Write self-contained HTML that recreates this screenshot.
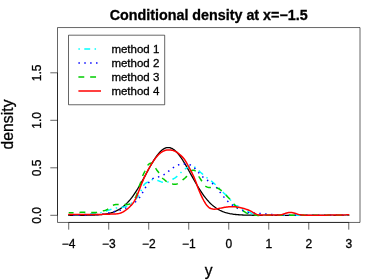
<!DOCTYPE html>
<html><head><meta charset="utf-8"><title>Conditional density</title>
<style>
html,body{margin:0;padding:0;background:#fff;}
svg{display:block;font-family:"Liberation Sans",sans-serif;will-change:transform;}
text{fill:#000;stroke:#000;stroke-width:0.3px;}
</style></head><body>
<svg width="374" height="280" viewBox="0 0 374 280">
<rect x="0" y="0" width="374" height="280" fill="#fff"/>
<g fill="none" stroke-linecap="butt" stroke-linejoin="round">
<path d="M68.71 215.30 L69.71 215.30 L70.71 215.30 L71.71 215.29 L72.71 215.29 L73.71 215.29 L74.71 215.29 L75.71 215.29 L76.71 215.29 L77.71 215.28 L78.71 215.28 L79.71 215.28 L80.71 215.27 L81.71 215.27 L82.71 215.26 L83.71 215.25 L84.71 215.24 L85.71 215.23 L86.71 215.22 L87.71 215.20 L88.72 215.19 L89.72 215.17 L90.72 215.14 L91.72 215.12 L92.72 215.09 L93.72 215.05 L94.72 215.01 L95.72 214.97 L96.72 214.92 L97.72 214.86 L98.72 214.79 L99.72 214.71 L100.72 214.63 L101.72 214.53 L102.72 214.42 L103.72 214.29 L104.72 214.15 L105.72 214.00 L106.72 213.82 L107.72 213.63 L108.72 213.41 L109.72 213.17 L110.72 212.91 L111.72 212.61 L112.72 212.29 L113.72 211.94 L114.72 211.55 L115.72 211.12 L116.72 210.66 L117.72 210.15 L118.72 209.60 L119.72 209.01 L120.72 208.37 L121.72 207.67 L122.72 206.93 L123.72 206.13 L124.72 205.28 L125.72 204.37 L126.72 203.40 L127.72 202.37 L128.72 201.28 L129.73 200.12 L130.73 198.91 L131.73 197.64 L132.73 196.30 L133.73 194.91 L134.73 193.46 L135.73 191.95 L136.73 190.39 L137.73 188.77 L138.73 187.12 L139.73 185.41 L140.73 183.67 L141.73 181.90 L142.73 180.10 L143.73 178.27 L144.73 176.43 L145.73 174.58 L146.73 172.73 L147.73 170.89 L148.73 169.06 L149.73 167.25 L150.73 165.47 L151.73 163.74 L152.73 162.05 L153.73 160.41 L154.73 158.84 L155.73 157.34 L156.73 155.93 L157.73 154.60 L158.73 153.37 L159.73 152.24 L160.73 151.22 L161.73 150.32 L162.73 149.53 L163.73 148.88 L164.73 148.35 L165.73 147.95 L166.73 147.69 L167.73 147.57 L168.74 147.58 L169.74 147.73 L170.74 148.00 L171.74 148.41 L172.74 148.94 L173.74 149.59 L174.74 150.37 L175.74 151.26 L176.74 152.26 L177.74 153.36 L178.74 154.57 L179.74 155.86 L180.74 157.25 L181.74 158.71 L182.74 160.24 L183.74 161.83 L184.74 163.48 L185.74 165.17 L186.74 166.90 L187.74 168.67 L188.74 170.46 L189.74 172.26 L190.74 174.07 L191.74 175.88 L192.74 177.68 L193.74 179.47 L194.74 181.25 L195.74 182.99 L196.74 184.71 L197.74 186.39 L198.74 188.04 L199.74 189.64 L200.74 191.19 L201.74 192.69 L202.74 194.14 L203.74 195.54 L204.74 196.88 L205.74 198.16 L206.74 199.38 L207.74 200.55 L208.74 201.65 L209.75 202.70 L210.75 203.69 L211.75 204.63 L212.75 205.50 L213.75 206.32 L214.75 207.09 L215.75 207.81 L216.75 208.48 L217.75 209.10 L218.75 209.68 L219.75 210.21 L220.75 210.70 L221.75 211.15 L222.75 211.56 L223.75 211.94 L224.75 212.29 L225.75 212.61 L226.75 212.89 L227.75 213.16 L228.75 213.39 L229.75 213.61 L230.75 213.80 L231.75 213.97 L232.75 214.13 L233.75 214.27 L234.75 214.39 L235.75 214.50 L236.75 214.60 L237.75 214.69 L238.75 214.77 L239.75 214.84 L240.75 214.90 L241.75 214.95 L242.75 215.00 L243.75 215.04 L244.75 215.07 L245.75 215.11 L246.75 215.13 L247.75 215.16 L248.75 215.18 L249.76 215.20 L250.76 215.21 L251.76 215.22 L252.76 215.24 L253.76 215.25 L254.76 215.25 L255.76 215.26 L256.76 215.27 L257.76 215.27 L258.76 215.28 L259.76 215.28 L260.76 215.28 L261.76 215.29 L262.76 215.29 L263.76 215.29 L264.76 215.29 L265.76 215.29 L266.76 215.29 L267.76 215.30 L268.76 215.30 L269.76 215.30 L270.76 215.30 L271.76 215.30 L272.76 215.30 L273.76 215.30 L274.76 215.30 L275.76 215.30 L276.76 215.30 L277.76 215.30 L278.76 215.30 L279.76 215.30 L280.76 215.30 L281.76 215.30 L282.76 215.30 L283.76 215.30 L284.76 215.30 L285.76 215.30 L286.76 215.30 L287.76 215.30 L288.76 215.30 L289.77 215.30 L290.77 215.30 L291.77 215.30 L292.77 215.30 L293.77 215.30 L294.77 215.30 L295.77 215.30 L296.77 215.30 L297.77 215.30 L298.77 215.30 L299.77 215.30 L300.77 215.30 L301.77 215.30 L302.77 215.30 L303.77 215.30 L304.77 215.30 L305.77 215.30 L306.77 215.30 L307.77 215.30 L308.77 215.30 L309.77 215.30 L310.77 215.30 L311.77 215.30 L312.77 215.30 L313.77 215.30 L314.77 215.30 L315.77 215.30 L316.77 215.30 L317.77 215.30 L318.77 215.30 L319.77 215.30 L320.77 215.30 L321.77 215.30 L322.77 215.30 L323.77 215.30 L324.77 215.30 L325.77 215.30 L326.77 215.30 L327.77 215.30 L328.77 215.30 L329.78 215.30 L330.78 215.30 L331.78 215.30 L332.78 215.30 L333.78 215.30 L334.78 215.30 L335.78 215.30 L336.78 215.30 L337.78 215.30 L338.78 215.30 L339.78 215.30 L340.78 215.30 L341.78 215.30 L342.78 215.30 L343.78 215.30 L344.78 215.30 L345.78 215.30 L346.78 215.30 L347.78 215.30 L348.78 215.30" stroke="#000" stroke-width="1.3" stroke-linecap="round"/>
<path d="M68.71 214.80 L69.71 214.79 L70.71 214.78 L71.71 214.78 L72.71 214.76 L73.71 214.75 L74.71 214.74 L75.71 214.72 L76.71 214.70 L77.71 214.67 L78.71 214.64 L79.71 214.61 L80.71 214.57 L81.71 214.53 L82.71 214.48 L83.71 214.42 L84.71 214.37 L85.71 214.30 L86.71 214.24 L87.71 214.17 L88.72 214.10 L89.72 214.02 L90.72 213.95 L91.72 213.87 L92.72 213.78 L93.72 213.68 L94.72 213.58 L95.72 213.46 L96.72 213.33 L97.72 213.18 L98.72 213.02 L99.72 212.83 L100.72 212.62 L101.72 212.38 L102.72 212.12 L103.72 211.84 L104.72 211.55 L105.72 211.23 L106.72 210.91 L107.72 210.57 L108.72 210.23 L109.72 209.89 L110.72 209.54 L111.72 209.20 L112.72 208.88 L113.72 208.58 L114.72 208.31 L115.72 208.08 L116.72 207.90 L117.72 207.75 L118.72 207.64 L119.72 207.54 L120.72 207.44 L121.72 207.33 L122.72 207.20 L123.72 207.03 L124.72 206.81 L125.72 206.53 L126.72 206.17 L127.72 205.73 L128.72 205.20 L129.73 204.55 L130.73 203.81 L131.73 202.99 L132.73 202.10 L133.73 201.17 L134.73 200.21 L135.73 199.21 L136.73 198.10 L137.73 196.81 L138.73 195.30 L139.73 193.52 L140.73 191.49 L141.73 189.24 L142.73 187.04 L143.73 185.24 L144.73 184.01 L145.73 183.17 L146.73 182.55 L147.73 181.94 L148.73 181.31 L149.73 180.71 L150.73 180.19 L151.73 179.80 L152.73 179.59 L153.73 179.55 L154.73 179.66 L155.73 179.88 L156.73 180.17 L157.73 180.52 L158.73 180.90 L159.73 181.28 L160.73 181.64 L161.73 181.97 L162.73 182.23 L163.73 182.42 L164.73 182.52 L165.73 182.51 L166.73 182.36 L167.73 182.07 L168.74 181.63 L169.74 181.09 L170.74 180.49 L171.74 179.86 L172.74 179.24 L173.74 178.66 L174.74 178.08 L175.74 177.44 L176.74 176.70 L177.74 175.83 L178.74 174.84 L179.74 173.81 L180.74 172.77 L181.74 171.78 L182.74 170.85 L183.74 170.00 L184.74 169.23 L185.74 168.55 L186.74 167.95 L187.74 167.41 L188.74 166.91 L189.74 166.49 L190.74 166.20 L191.74 166.07 L192.74 166.16 L193.74 166.51 L194.74 167.08 L195.74 167.83 L196.74 168.71 L197.74 169.67 L198.74 170.65 L199.74 171.60 L200.74 172.50 L201.74 173.36 L202.74 174.21 L203.74 175.05 L204.74 175.90 L205.74 176.74 L206.74 177.57 L207.74 178.36 L208.74 179.13 L209.75 179.89 L210.75 180.66 L211.75 181.44 L212.75 182.27 L213.75 183.13 L214.75 184.01 L215.75 184.91 L216.75 185.83 L217.75 186.77 L218.75 187.75 L219.75 188.77 L220.75 189.83 L221.75 190.89 L222.75 191.94 L223.75 192.93 L224.75 193.87 L225.75 194.75 L226.75 195.63 L227.75 196.57 L228.75 197.63 L229.75 198.87 L230.75 200.37 L231.75 202.14 L232.75 203.81 L233.75 204.90 L234.75 205.41 L235.75 205.59 L236.75 205.72 L237.75 206.05 L238.75 206.63 L239.75 207.38 L240.75 208.21 L241.75 209.03 L242.75 209.76 L243.75 210.32 L244.75 210.69 L245.75 210.94 L246.75 211.15 L247.75 211.42 L248.75 211.81 L249.76 212.35 L250.76 212.95 L251.76 213.54 L252.76 214.01 L253.76 214.35 L254.76 214.60 L255.76 214.77 L256.76 214.91 L257.76 215.03 L258.76 215.12 L259.76 215.20 L260.76 215.25 L261.76 215.29 L262.76 215.32 L263.76 215.33 L264.76 215.34 L265.76 215.34 L266.76 215.33 L267.76 215.32 L268.76 215.31 L269.76 215.30 L270.76 215.30 L271.76 215.29 L272.76 215.29 L273.76 215.29 L274.76 215.30 L275.76 215.30 L276.76 215.30 L277.76 215.30 L278.76 215.30 L279.76 215.30 L280.76 215.29 L281.76 215.29 L282.76 215.27 L283.76 215.26 L284.76 215.25 L285.76 215.24 L286.76 215.22 L287.76 215.21 L288.76 215.21 L289.77 215.20 L290.77 215.20 L291.77 215.20 L292.77 215.21 L293.77 215.22 L294.77 215.23 L295.77 215.24 L296.77 215.26 L297.77 215.27 L298.77 215.29 L299.77 215.30 L300.77 215.31 L301.77 215.32 L302.77 215.32 L303.77 215.33 L304.77 215.33 L305.77 215.34 L306.77 215.34 L307.77 215.34 L308.77 215.34 L309.77 215.34 L310.77 215.33 L311.77 215.33 L312.77 215.33 L313.77 215.33 L314.77 215.32 L315.77 215.32 L316.77 215.31 L317.77 215.31 L318.77 215.30 L319.77 215.30 L320.77 215.30 L321.77 215.29 L322.77 215.29 L323.77 215.29 L324.77 215.29 L325.77 215.29 L326.77 215.28 L327.77 215.28 L328.77 215.28 L329.78 215.28 L330.78 215.28 L331.78 215.28 L332.78 215.28 L333.78 215.28 L334.78 215.28 L335.78 215.28 L336.78 215.28 L337.78 215.28 L338.78 215.28 L339.78 215.29 L340.78 215.29 L341.78 215.29 L342.78 215.29 L343.78 215.29 L344.78 215.29 L345.78 215.29 L346.78 215.30 L347.78 215.30 L348.78 215.30" stroke="#00ffff" stroke-width="1.5" stroke-dasharray="1.470 4.410 5.880 4.410" stroke-dashoffset="0.7"/>
<path d="M68.71 215.20 L69.71 215.20 L70.71 215.20 L71.71 215.20 L72.71 215.20 L73.71 215.20 L74.71 215.20 L75.71 215.20 L76.71 215.20 L77.71 215.20 L78.71 215.20 L79.71 215.20 L80.71 215.20 L81.71 215.20 L82.71 215.20 L83.71 215.20 L84.71 215.20 L85.71 215.19 L86.71 215.18 L87.71 215.16 L88.72 215.14 L89.72 215.11 L90.72 215.07 L91.72 215.03 L92.72 214.97 L93.72 214.92 L94.72 214.85 L95.72 214.78 L96.72 214.70 L97.72 214.61 L98.72 214.52 L99.72 214.43 L100.72 214.33 L101.72 214.22 L102.72 214.11 L103.72 213.98 L104.72 213.84 L105.72 213.69 L106.72 213.51 L107.72 213.32 L108.72 213.10 L109.72 212.86 L110.72 212.60 L111.72 212.32 L112.72 212.03 L113.72 211.75 L114.72 211.48 L115.72 211.24 L116.72 211.01 L117.72 210.79 L118.72 210.56 L119.72 210.32 L120.72 210.04 L121.72 209.73 L122.72 209.37 L123.72 208.97 L124.72 208.54 L125.72 208.08 L126.72 207.59 L127.72 207.08 L128.72 206.54 L129.73 205.96 L130.73 205.34 L131.73 204.68 L132.73 203.97 L133.73 203.22 L134.73 202.42 L135.73 201.58 L136.73 200.69 L137.73 199.71 L138.73 198.59 L139.73 197.29 L140.73 195.78 L141.73 194.11 L142.73 192.34 L143.73 190.54 L144.73 188.75 L145.73 187.02 L146.73 185.39 L147.73 183.88 L148.73 182.50 L149.73 181.29 L150.73 180.25 L151.73 179.37 L152.73 178.67 L153.73 178.13 L154.73 177.73 L155.73 177.44 L156.73 177.20 L157.73 176.99 L158.73 176.77 L159.73 176.51 L160.73 176.19 L161.73 175.81 L162.73 175.35 L163.73 174.80 L164.73 174.17 L165.73 173.46 L166.73 172.69 L167.73 171.88 L168.74 171.06 L169.74 170.25 L170.74 169.45 L171.74 168.68 L172.74 167.96 L173.74 167.28 L174.74 166.67 L175.74 166.11 L176.74 165.62 L177.74 165.19 L178.74 164.82 L179.74 164.53 L180.74 164.29 L181.74 164.11 L182.74 163.99 L183.74 163.91 L184.74 163.88 L185.74 163.89 L186.74 163.97 L187.74 164.11 L188.74 164.35 L189.74 164.70 L190.74 165.17 L191.74 165.76 L192.74 166.48 L193.74 167.31 L194.74 168.26 L195.74 169.32 L196.74 170.47 L197.74 171.64 L198.74 172.81 L199.74 173.94 L200.74 175.01 L201.74 176.01 L202.74 176.94 L203.74 177.77 L204.74 178.53 L205.74 179.23 L206.74 179.89 L207.74 180.51 L208.74 181.12 L209.75 181.73 L210.75 182.36 L211.75 183.03 L212.75 183.75 L213.75 184.55 L214.75 185.45 L215.75 186.48 L216.75 187.67 L217.75 189.01 L218.75 190.43 L219.75 191.85 L220.75 193.20 L221.75 194.47 L222.75 195.69 L223.75 196.87 L224.75 198.05 L225.75 199.20 L226.75 200.30 L227.75 201.32 L228.75 202.25 L229.75 203.10 L230.75 203.89 L231.75 204.62 L232.75 205.32 L233.75 205.99 L234.75 206.63 L235.75 207.24 L236.75 207.80 L237.75 208.33 L238.75 208.83 L239.75 209.29 L240.75 209.74 L241.75 210.19 L242.75 210.63 L243.75 211.08 L244.75 211.51 L245.75 211.90 L246.75 212.24 L247.75 212.49 L248.75 212.68 L249.76 212.81 L250.76 212.89 L251.76 212.95 L252.76 213.00 L253.76 213.05 L254.76 213.10 L255.76 213.16 L256.76 213.22 L257.76 213.30 L258.76 213.37 L259.76 213.46 L260.76 213.55 L261.76 213.64 L262.76 213.74 L263.76 213.83 L264.76 213.93 L265.76 214.02 L266.76 214.12 L267.76 214.20 L268.76 214.29 L269.76 214.37 L270.76 214.45 L271.76 214.53 L272.76 214.60 L273.76 214.67 L274.76 214.73 L275.76 214.79 L276.76 214.85 L277.76 214.90 L278.76 214.95 L279.76 214.99 L280.76 215.03 L281.76 215.06 L282.76 215.09 L283.76 215.11 L284.76 215.13 L285.76 215.15 L286.76 215.16 L287.76 215.17 L288.76 215.19 L289.77 215.20 L290.77 215.21 L291.77 215.22 L292.77 215.23 L293.77 215.24 L294.77 215.25 L295.77 215.26 L296.77 215.27 L297.77 215.28 L298.77 215.29 L299.77 215.30 L300.77 215.30 L301.77 215.31 L302.77 215.31 L303.77 215.32 L304.77 215.32 L305.77 215.32 L306.77 215.32 L307.77 215.32 L308.77 215.32 L309.77 215.32 L310.77 215.32 L311.77 215.32 L312.77 215.32 L313.77 215.31 L314.77 215.31 L315.77 215.31 L316.77 215.31 L317.77 215.31 L318.77 215.30 L319.77 215.30 L320.77 215.30 L321.77 215.30 L322.77 215.29 L323.77 215.29 L324.77 215.29 L325.77 215.29 L326.77 215.29 L327.77 215.29 L328.77 215.29 L329.78 215.29 L330.78 215.29 L331.78 215.29 L332.78 215.29 L333.78 215.29 L334.78 215.29 L335.78 215.29 L336.78 215.29 L337.78 215.29 L338.78 215.29 L339.78 215.29 L340.78 215.29 L341.78 215.29 L342.78 215.29 L343.78 215.29 L344.78 215.30 L345.78 215.30 L346.78 215.30 L347.78 215.30 L348.78 215.30" stroke="#0000ff" stroke-width="1.5" stroke-dasharray="1.470 4.410" stroke-dashoffset="1.68"/>
<path d="M68.71 212.70 L69.71 212.71 L70.71 212.71 L71.71 212.71 L72.71 212.70 L73.71 212.68 L74.71 212.65 L75.71 212.62 L76.71 212.57 L77.71 212.52 L78.71 212.46 L79.71 212.40 L80.71 212.35 L81.71 212.31 L82.71 212.29 L83.71 212.29 L84.71 212.30 L85.71 212.33 L86.71 212.36 L87.71 212.39 L88.72 212.42 L89.72 212.45 L90.72 212.48 L91.72 212.49 L92.72 212.50 L93.72 212.50 L94.72 212.49 L95.72 212.46 L96.72 212.39 L97.72 212.26 L98.72 212.06 L99.72 211.78 L100.72 211.45 L101.72 211.13 L102.72 210.87 L103.72 210.66 L104.72 210.45 L105.72 210.18 L106.72 209.79 L107.72 209.24 L108.72 208.50 L109.72 207.66 L110.72 206.83 L111.72 206.08 L112.72 205.45 L113.72 204.98 L114.72 204.66 L115.72 204.48 L116.72 204.40 L117.72 204.39 L118.72 204.41 L119.72 204.45 L120.72 204.49 L121.72 204.52 L122.72 204.56 L123.72 204.58 L124.72 204.61 L125.72 204.62 L126.72 204.60 L127.72 204.52 L128.72 204.34 L129.73 204.03 L130.73 203.56 L131.73 202.78" stroke="#00cd00" stroke-width="1.5" stroke-dasharray="5.880 5.880" stroke-dashoffset="1.0"/>
<path d="M131.73 202.78 L132.73 201.53 L133.73 199.89 L134.73 198.49 L135.73 197.09 L136.73 194.53 L137.73 191.08 L138.73 187.60 L139.73 184.89 L140.73 182.30 L141.73 178.83 L142.73 175.69 L143.73 173.52 L144.73 171.54 L145.73 169.29 L146.73 167.06 L147.73 165.25 L148.73 164.14 L149.73 163.55 L150.73 163.22 L151.73 162.96 L152.73 163.17 L153.73 164.22 L154.73 166.12 L155.73 168.27 L156.73 169.93 L157.73 171.24 L158.73 172.55 L159.73 174.14 L160.73 175.86 L161.73 177.41 L162.73 178.49 L163.73 179.21 L164.73 179.98 L165.73 180.83 L166.73 181.61 L167.73 182.21 L168.74 182.69 L169.74 183.10 L170.74 183.44 L171.74 183.74 L172.74 183.98 L173.74 184.17 L174.74 184.25 L175.74 184.22 L176.74 184.02 L177.74 183.64 L178.74 183.06 L179.74 182.35 L180.74 181.55 L181.74 180.70 L182.74 179.87 L183.74 179.08 L184.74 178.27 L185.74 177.37 L186.74 176.29 L187.74 175.01 L188.74 173.65 L189.74 172.32 L190.74 171.21 L191.74 170.49 L192.74 170.17 L193.74 170.14 L194.74 170.45 L195.74 171.39 L196.74 172.89 L197.74 174.63 L198.74 176.36 L199.74 177.96 L200.74 179.48 L201.74 181.00 L202.74 182.55 L203.74 184.01 L204.74 185.29 L205.74 186.26 L206.74 186.91 L207.74 187.29 L208.74 187.49 L209.75 187.58 L210.75 187.62 L211.75 187.68 L212.75 187.74 L213.75 187.78 L214.75 187.80 L215.75 187.83 L216.75 187.96 L217.75 188.24 L218.75 188.70 L219.75 189.30 L220.75 190.04 L221.75 190.90 L222.75 191.84 L223.75 192.85 L224.75 193.89 L225.75 194.93 L226.75 195.96 L227.75 196.98 L228.75 198.00 L229.75 199.07 L230.75 200.20 L231.75 201.39 L232.75 202.63 L233.75 203.88 L234.75 205.10 L235.75 206.27 L236.75 207.34 L237.75 208.24 L238.75 208.90 L239.75 209.39 L240.75 209.78 L241.75 210.18 L242.75 210.66 L243.75 211.26 L244.75 211.93 L245.75 212.59 L246.75 213.16 L247.75 213.59 L248.75 213.91 L249.76 214.15 L250.76 214.36 L251.76 214.55 L252.76 214.72 L253.76 214.90 L254.76 215.08 L255.76 215.22 L256.76 215.33 L257.76 215.38 L258.76 215.39 L259.76 215.37 L260.76 215.34 L261.76 215.31 L262.76 215.28 L263.76 215.27 L264.76 215.26 L265.76 215.26 L266.76 215.27 L267.76 215.28 L268.76 215.29 L269.76 215.30 L270.76 215.31 L271.76 215.31 L272.76 215.32 L273.76 215.32 L274.76 215.32 L275.76 215.32 L276.76 215.32 L277.76 215.32 L278.76 215.31 L279.76 215.30 L280.76 215.29 L281.76 215.28 L282.76 215.27 L283.76 215.25 L284.76 215.24 L285.76 215.23 L286.76 215.22 L287.76 215.21 L288.76 215.20 L289.77 215.20 L290.77 215.20 L291.77 215.21 L292.77 215.21 L293.77 215.22 L294.77 215.23 L295.77 215.25 L296.77 215.26 L297.77 215.27 L298.77 215.29 L299.77 215.30 L300.77 215.31 L301.77 215.32 L302.77 215.32 L303.77 215.33 L304.77 215.33 L305.77 215.34 L306.77 215.34 L307.77 215.34 L308.77 215.34 L309.77 215.34 L310.77 215.33 L311.77 215.33 L312.77 215.33 L313.77 215.32 L314.77 215.32 L315.77 215.32 L316.77 215.31 L317.77 215.31 L318.77 215.30 L319.77 215.30 L320.77 215.30 L321.77 215.29 L322.77 215.29 L323.77 215.29 L324.77 215.29 L325.77 215.29 L326.77 215.28 L327.77 215.28 L328.77 215.28 L329.78 215.28 L330.78 215.28 L331.78 215.28 L332.78 215.28 L333.78 215.28 L334.78 215.28 L335.78 215.28 L336.78 215.28 L337.78 215.28 L338.78 215.28 L339.78 215.29 L340.78 215.29 L341.78 215.29 L342.78 215.29 L343.78 215.29 L344.78 215.29 L345.78 215.29 L346.78 215.30 L347.78 215.30 L348.78 215.30" stroke="#00cd00" stroke-width="1.5" stroke-dasharray="5.880 5.880" stroke-dashoffset="64.924"/>
<path d="M68.71 214.60 L69.71 214.60 L70.71 214.60 L71.71 214.60 L72.71 214.59 L73.71 214.59 L74.71 214.59 L75.71 214.59 L76.71 214.59 L77.71 214.60 L78.71 214.60 L79.71 214.60 L80.71 214.60 L81.71 214.61 L82.71 214.61 L83.71 214.61 L84.71 214.62 L85.71 214.62 L86.71 214.62 L87.71 214.62 L88.72 214.61 L89.72 214.60 L90.72 214.59 L91.72 214.57 L92.72 214.55 L93.72 214.53 L94.72 214.51 L95.72 214.49 L96.72 214.47 L97.72 214.45 L98.72 214.43 L99.72 214.41 L100.72 214.39 L101.72 214.38 L102.72 214.37 L103.72 214.35 L104.72 214.33 L105.72 214.31 L106.72 214.28 L107.72 214.25 L108.72 214.21 L109.72 214.16 L110.72 214.12 L111.72 214.07 L112.72 214.04 L113.72 214.00 L114.72 213.96 L115.72 213.91 L116.72 213.82 L117.72 213.69 L118.72 213.51 L119.72 213.26 L120.72 212.94 L121.72 212.54 L122.72 212.06 L123.72 211.51 L124.72 210.88 L125.72 210.18 L126.72 209.42 L127.72 208.61 L128.72 207.75 L129.73 206.83 L130.73 205.83 L131.73 204.73 L132.73 203.49 L133.73 202.09 L134.73 200.47 L135.73 198.58 L136.73 196.37 L137.73 193.87 L138.73 191.26 L139.73 188.67 L140.73 186.10 L141.73 183.59 L142.73 181.15 L143.73 178.81 L144.73 176.59 L145.73 174.48 L146.73 172.48 L147.73 170.58 L148.73 168.76 L149.73 167.00 L150.73 165.28 L151.73 163.62 L152.73 162.05 L153.73 160.58 L154.73 159.18 L155.73 157.87 L156.73 156.64 L157.73 155.51 L158.73 154.48 L159.73 153.56 L160.73 152.75 L161.73 152.05 L162.73 151.45 L163.73 150.96 L164.73 150.58 L165.73 150.28 L166.73 150.07 L167.73 149.94 L168.74 149.89 L169.74 149.90 L170.74 149.99 L171.74 150.14 L172.74 150.38 L173.74 150.70 L174.74 151.10 L175.74 151.60 L176.74 152.21 L177.74 152.92 L178.74 153.70 L179.74 154.53 L180.74 155.40 L181.74 156.33 L182.74 157.35 L183.74 158.49 L184.74 159.82 L185.74 161.39 L186.74 163.15 L187.74 165.00 L188.74 166.85 L189.74 168.70 L190.74 170.56 L191.74 172.47 L192.74 174.48 L193.74 176.64 L194.74 179.00 L195.74 181.59 L196.74 184.36 L197.74 187.16 L198.74 189.78 L199.74 192.17 L200.74 194.41 L201.74 196.56 L202.74 198.61 L203.74 200.51 L204.74 202.25 L205.74 203.82 L206.74 205.20 L207.74 206.38 L208.74 207.32 L209.75 208.02 L210.75 208.52 L211.75 208.86 L212.75 209.05 L213.75 209.13 L214.75 209.13 L215.75 209.05 L216.75 208.92 L217.75 208.75 L218.75 208.56 L219.75 208.36 L220.75 208.14 L221.75 207.93 L222.75 207.73 L223.75 207.54 L224.75 207.36 L225.75 207.21 L226.75 207.06 L227.75 206.94 L228.75 206.83 L229.75 206.73 L230.75 206.66 L231.75 206.63 L232.75 206.63 L233.75 206.67 L234.75 206.75 L235.75 206.86 L236.75 206.99 L237.75 207.15 L238.75 207.33 L239.75 207.53 L240.75 207.75 L241.75 207.98 L242.75 208.24 L243.75 208.51 L244.75 208.80 L245.75 209.11 L246.75 209.44 L247.75 209.79 L248.75 210.18 L249.76 210.62 L250.76 211.15 L251.76 211.72 L252.76 212.28 L253.76 212.84 L254.76 213.38 L255.76 213.91 L256.76 214.36 L257.76 214.71 L258.76 214.94 L259.76 215.05 L260.76 215.09 L261.76 215.08 L262.76 215.06 L263.76 215.04 L264.76 215.02 L265.76 215.01 L266.76 215.00 L267.76 214.99 L268.76 214.99 L269.76 214.99 L270.76 215.00 L271.76 215.00 L272.76 215.00 L273.76 215.01 L274.76 215.02 L275.76 215.04 L276.76 215.06 L277.76 215.06 L278.76 215.04 L279.76 214.97 L280.76 214.84 L281.76 214.62 L282.76 214.33 L283.76 213.99 L284.76 213.63 L285.76 213.27 L286.76 212.95 L287.76 212.69 L288.76 212.52 L289.77 212.44 L290.77 212.46 L291.77 212.56 L292.77 212.74 L293.77 212.97 L294.77 213.25 L295.77 213.55 L296.77 213.86 L297.77 214.16 L298.77 214.43 L299.77 214.67 L300.77 214.86 L301.77 215.00 L302.77 215.08 L303.77 215.12 L304.77 215.13 L305.77 215.13 L306.77 215.14 L307.77 215.14 L308.77 215.15 L309.77 215.17 L310.77 215.18 L311.77 215.19 L312.77 215.20 L313.77 215.21 L314.77 215.21 L315.77 215.22 L316.77 215.22 L317.77 215.21 L318.77 215.21 L319.77 215.20 L320.77 215.19 L321.77 215.19 L322.77 215.18 L323.77 215.17 L324.77 215.16 L325.77 215.14 L326.77 215.13 L327.77 215.12 L328.77 215.11 L329.78 215.10 L330.78 215.09 L331.78 215.09 L332.78 215.08 L333.78 215.07 L334.78 215.06 L335.78 215.05 L336.78 215.04 L337.78 215.03 L338.78 215.02 L339.78 215.00 L340.78 214.99 L341.78 214.97 L342.78 214.95 L343.78 214.92 L344.78 214.90 L345.78 214.88 L346.78 214.85 L347.78 214.83 L348.78 214.80" stroke="#ff0000" stroke-width="1.5" stroke-linecap="round"/>
</g>
<g fill="none" stroke="#000" stroke-width="0.75" stroke-opacity="0.8" stroke-linejoin="round">
<rect x="57.5" y="27.55" width="302.50" height="194.90"/>
<line x1="68.71" y1="222.45" x2="348.78" y2="222.45"/>
<line x1="68.71" y1="222.45" x2="68.71" y2="229.65"/><line x1="108.72" y1="222.45" x2="108.72" y2="229.65"/><line x1="148.73" y1="222.45" x2="148.73" y2="229.65"/><line x1="188.74" y1="222.45" x2="188.74" y2="229.65"/><line x1="228.75" y1="222.45" x2="228.75" y2="229.65"/><line x1="268.76" y1="222.45" x2="268.76" y2="229.65"/><line x1="308.77" y1="222.45" x2="308.77" y2="229.65"/><line x1="348.78" y1="222.45" x2="348.78" y2="229.65"/>
<line x1="57.5" y1="215.30" x2="57.5" y2="72.80"/>
<line x1="57.5" y1="215.30" x2="50.30" y2="215.30"/><line x1="57.5" y1="167.80" x2="50.30" y2="167.80"/><line x1="57.5" y1="120.30" x2="50.30" y2="120.30"/><line x1="57.5" y1="72.80" x2="50.30" y2="72.80"/>
<rect x="68.5" y="35.2" width="96.2" height="69.55" fill="#fff"/>
</g>
<g fill="none" stroke-linecap="butt" stroke-width="1.5">
<line x1="78.4" y1="49.05" x2="100.4" y2="49.05" stroke="#00ffff" stroke-dasharray="1.47 4.41 5.88 4.41"/>
<line x1="78.4" y1="63" x2="101" y2="63" stroke="#0000ff" stroke-dasharray="1.47 4.41"/>
<line x1="78.4" y1="76.95" x2="101" y2="76.95" stroke="#00cd00" stroke-dasharray="5.88 5.88"/>
<line x1="78.4" y1="91.0" x2="101" y2="91.0" stroke="#ff0000"/>
</g>
<g font-size="11.5px">
<text x="111.4" y="53.1">method 1</text>
<text x="111.4" y="67.0">method 2</text>
<text x="111.4" y="80.89999999999999">method 3</text>
<text x="111.4" y="94.8">method 4</text>
</g>
<g font-size="12px"><text x="68.71" y="247.8" text-anchor="middle">−4</text><text x="108.72" y="247.8" text-anchor="middle">−3</text><text x="148.73" y="247.8" text-anchor="middle">−2</text><text x="188.74" y="247.8" text-anchor="middle">−1</text><text x="228.75" y="247.8" text-anchor="middle">0</text><text x="268.76" y="247.8" text-anchor="middle">1</text><text x="308.77" y="247.8" text-anchor="middle">2</text><text x="348.78" y="247.8" text-anchor="middle">3</text><text transform="translate(40.6,215.30) rotate(-90)" text-anchor="middle">0.0</text><text transform="translate(40.6,167.80) rotate(-90)" text-anchor="middle">0.5</text><text transform="translate(40.6,120.30) rotate(-90)" text-anchor="middle">1.0</text><text transform="translate(40.6,72.80) rotate(-90)" text-anchor="middle">1.5</text></g>
<text x="208.7" y="19.6" text-anchor="middle" font-size="14.3px" font-weight="bold" stroke-width="0">Conditional density at x=−1.5</text>
<text x="208.7" y="275.9" text-anchor="middle" font-size="15.6px">y</text>
<text transform="translate(12.5,124.50) rotate(-90)" text-anchor="middle" font-size="15.6px" letter-spacing="0.1">density</text>
</svg>
</body></html>
